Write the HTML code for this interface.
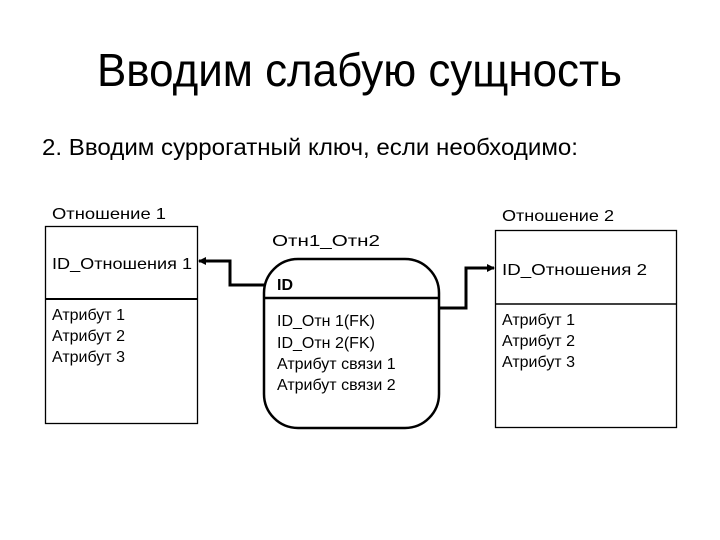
<!DOCTYPE html>
<html><head><meta charset="utf-8"><style>
html,body{margin:0;padding:0;background:#fff;width:720px;height:540px;overflow:hidden}
text{font-family:"Liberation Sans",Arial,sans-serif;fill:#000}
</style></head><body>
<svg width="720" height="540" viewBox="0 0 720 540" xmlns="http://www.w3.org/2000/svg">
<defs><marker id="ah" markerWidth="8" markerHeight="8" refX="7" refY="4" orient="auto" markerUnits="userSpaceOnUse"><path d="M0,0 L8,4 L0,8 z" fill="#000"/></marker></defs>
<text x="97" y="86" font-size="46" textLength="525" lengthAdjust="spacingAndGlyphs">Вводим слабую сущность</text>
<text x="42" y="155" font-size="23" textLength="536" lengthAdjust="spacingAndGlyphs">2. Вводим суррогатный ключ, если необходимо:</text>

<text x="52" y="219" font-size="16" textLength="114" lengthAdjust="spacingAndGlyphs">Отношение 1</text>
<rect x="45.5" y="226.5" width="152" height="197" fill="none" stroke="#000" stroke-width="1.3"/>
<line x1="45" y1="299" x2="198" y2="299" stroke="#000" stroke-width="2"/>
<text x="52" y="269" font-size="16" textLength="140" lengthAdjust="spacingAndGlyphs">ID_Отношения 1</text>
<text x="52" y="320" font-size="16">Атрибут 1</text>
<text x="52" y="341" font-size="16">Атрибут 2</text>
<text x="52" y="362" font-size="16">Атрибут 3</text>

<text x="272" y="246" font-size="16" textLength="108" lengthAdjust="spacingAndGlyphs">Отн1_Отн2</text>
<rect x="264" y="259" width="175" height="169" rx="34" ry="34" fill="none" stroke="#000" stroke-width="2.5"/>
<line x1="264" y1="298" x2="439" y2="298" stroke="#000" stroke-width="2.5"/>
<text x="277" y="290" font-size="16" font-weight="bold">ID</text>
<text x="277" y="326" font-size="16">ID_Отн 1(FK)</text>
<text x="277" y="348" font-size="16">ID_Отн 2(FK)</text>
<text x="277" y="369" font-size="16">Атрибут связи 1</text>
<text x="277" y="390" font-size="16">Атрибут связи 2</text>

<text x="502" y="221" font-size="16" textLength="112" lengthAdjust="spacingAndGlyphs">Отношение 2</text>
<rect x="495.5" y="230.5" width="181" height="197" fill="none" stroke="#000" stroke-width="1.3"/>
<line x1="495" y1="304" x2="677" y2="304" stroke="#000" stroke-width="1.5"/>
<text x="502" y="275" font-size="16" textLength="145" lengthAdjust="spacingAndGlyphs">ID_Отношения  2</text>
<text x="502" y="325" font-size="16">Атрибут 1</text>
<text x="502" y="346" font-size="16">Атрибут 2</text>
<text x="502" y="367" font-size="16">Атрибут 3</text>

<polyline points="264,285 230,285 230,261 199,261" fill="none" stroke="#000" stroke-width="3" marker-end="url(#ah)"/>
<polyline points="439,308 466,308 466,268 494,268" fill="none" stroke="#000" stroke-width="3" marker-end="url(#ah)"/>
</svg>
</body></html>
